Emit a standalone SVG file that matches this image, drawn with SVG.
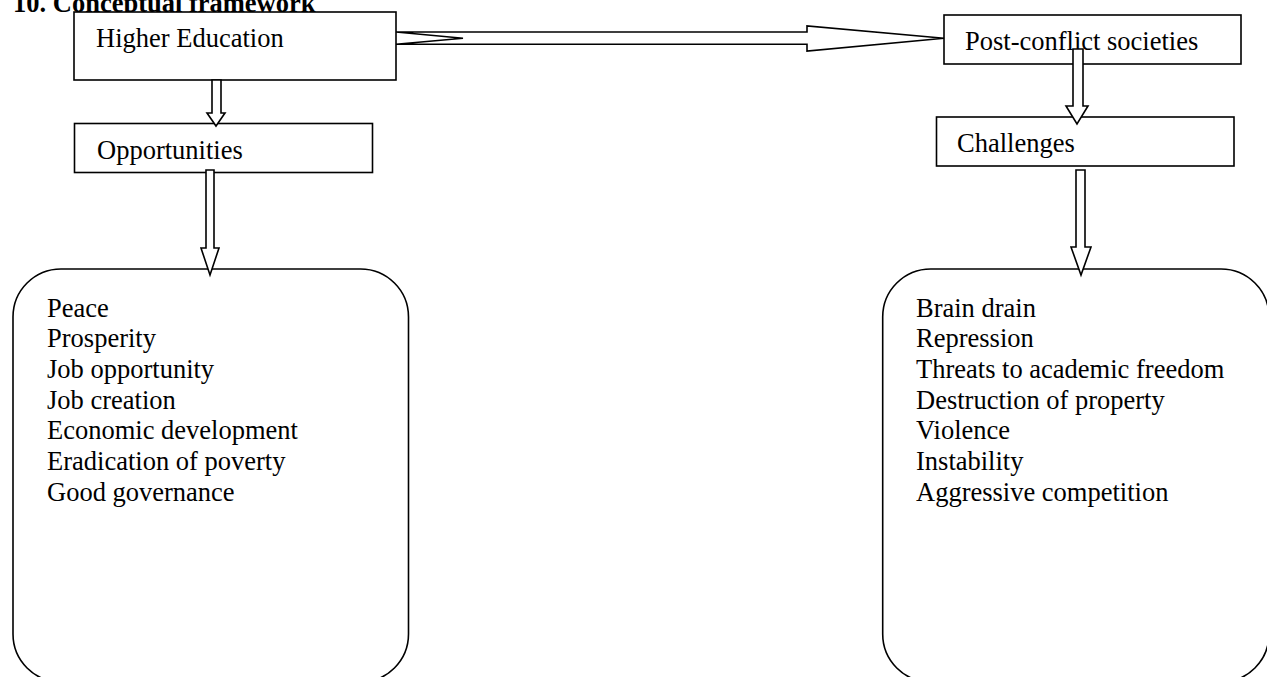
<svg xmlns="http://www.w3.org/2000/svg" width="1267" height="677" viewBox="0 0 1267 677">
<style>
.box{fill:#fff;stroke:#000;stroke-width:1.6}
.arr{fill:#fff;stroke:#000;stroke-width:1.6;stroke-linejoin:miter}
text{font-family:"Liberation Serif","Times New Roman",serif;font-size:26.5px;fill:#000}
.title{font-weight:bold}
</style>
<rect width="1267" height="677" fill="#fff"/>
<text class="title" x="13" y="12">10. Conceptual framework</text>
<g id="higher-education">
<rect class="box" x="74" y="12" width="322" height="68"/>
<text x="96" y="47">Higher Education</text>
</g>
<g id="post-conflict-societies">
<rect class="box" x="944" y="15" width="297" height="49"/>
<text x="965" y="50">Post-conflict societies</text>
</g>
<g id="opportunities">
<rect class="box" x="74.5" y="123.5" width="298" height="49"/>
<text x="97" y="159">Opportunities</text>
</g>
<g id="challenges">
<rect class="box" x="936.5" y="117" width="297.5" height="49"/>
<text x="957" y="151.5">Challenges</text>
</g>
<g id="opportunities-list">
<rect class="box" x="13" y="269" width="395.5" height="413" rx="48" ry="48"/>
<text x="47" y="316.7">Peace</text>
<text x="47" y="347.3">Prosperity</text>
<text x="47" y="378">Job opportunity</text>
<text x="47" y="408.7">Job creation</text>
<text x="47" y="439.3">Economic development</text>
<text x="47" y="470">Eradication of poverty</text>
<text x="47" y="500.7">Good governance</text>
</g>
<g id="challenges-list">
<rect class="box" x="882.7" y="269" width="386.3" height="413" rx="48" ry="48"/>
<text x="916" y="316.7">Brain drain</text>
<text x="916" y="347.3">Repression</text>
<text x="916" y="378">Threats to academic freedom</text>
<text x="916" y="408.7">Destruction of property</text>
<text x="916" y="439.3">Violence</text>
<text x="916" y="470">Instability</text>
<text x="916" y="500.7">Aggressive competition</text>
</g>
<g id="connectors">
<polygon class="arr" points="396,32 807,32 807,26 944,38.3 807,51 807,44.3 396,44.3 463,38.2"/>
<polygon class="arr" points="212,80 221,80 221,113 225,113 216,126 207,113 212,113"/>
<polygon class="arr" points="206,170 214,170 214,248 219,248 210,275 201,248 206,248"/>
<polygon class="arr" points="1073,49 1083,49 1083,106 1088,106 1077,124 1066,106 1073,106"/>
<polygon class="arr" points="1076,170 1085,170 1085,247 1091,247 1081,275 1071,247 1076,247"/>
</g>
</svg>
